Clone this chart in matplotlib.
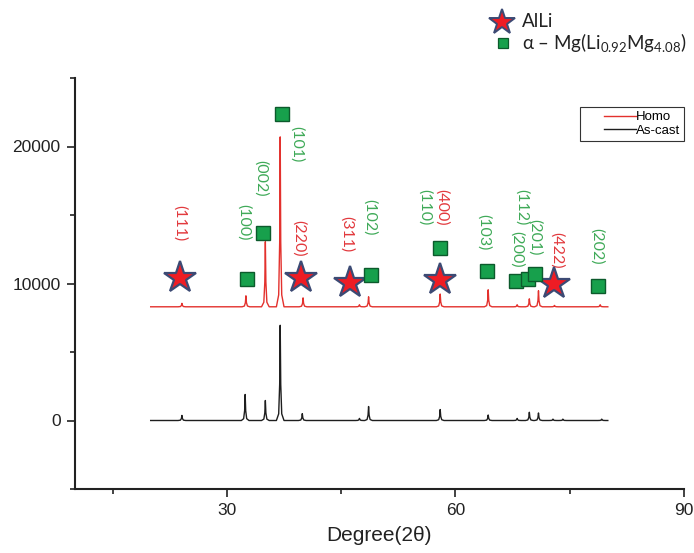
import numpy as np
import matplotlib
matplotlib.use("Agg")
import matplotlib.pyplot as plt
from matplotlib.lines import Line2D
from matplotlib.legend_handler import HandlerBase
from matplotlib.ticker import MultipleLocator

plt.rcParams['font.family'] = ['Liberation Sans', 'DejaVu Sans']
plt.rcParams['mathtext.fontset'] = 'custom'
plt.rcParams['mathtext.rm'] = 'Lato'

# ---------------- data ----------------
x_start, x_end = 20.0, 80.0
homo_baseline = 8300
homo_peak_pos = [24.1, 32.5, 35.05, 37.0, 40.0, 47.4, 48.6, 58.0, 64.3, 68.1, 69.7, 70.9, 73.0, 79.0]
homo_peak_h = [250, 800, 4750, 12400, 650, 150, 730, 930, 1240, 150, 580, 1170, 100, 150]

ascast_baseline = 0
ascast_peak_pos = [24.1, 32.4, 35.05, 37.0, 39.9, 47.4, 48.6, 58.0, 64.3, 68.1, 69.7, 70.9, 72.8, 74.1, 79.2]
ascast_peak_h = [370, 1900, 1460, 6950, 500, 150, 1020, 800, 400, 150, 600, 550, 100, 100, 100]

star_x = [23.9, 39.75, 46.2, 57.95, 72.95]
star_y = [10390, 10390, 10020, 10240, 9950]
square_x = [32.7, 34.8, 37.25, 48.9, 58.0, 64.2, 67.9, 69.5, 70.45, 78.65]
square_y = [10310, 13660, 22380, 10600, 12560, 10920, 10170, 10360, 10680, 9830]

alli_labels = ['(111)', '(220)', '(311)', '(400)', '(422)']
alli_lx = [23.8, 39.4, 45.7, 58.2, 73.3]
alli_ly = [14430, 13300, 13600, 15550, 12440]
mg_labels = ['(100)', '(002)', '(101)', '(102)', '(110)', '(103)', '(200)', '(112)', '(201)', '(202)']
mg_lx = [32.2, 34.5, 39.2, 48.7, 56.0, 63.7, 68.0, 68.7, 70.45, 78.5]
mg_ly = [14500, 17700, 20150, 14800, 15600, 13770, 12500, 15550, 13350, 12730]

x_ticks = [30, 60, 90]
y_ticks = [0, 10000, 20000]

# peak profile template (offsets in degrees, fraction of height)
shape_dx = [-0.50, -0.20, -0.07, 0.0, 0.07, 0.20, 0.50]
shape_f = [0.0, 0.07, 0.38, 1.0, 0.38, 0.07, 0.0]


def build_profile(pos, heights, base):
    xs = [x_start]
    ys = [base]
    for p, h in sorted(zip(pos, heights)):
        for dx, f in zip(shape_dx, shape_f):
            xs.append(p + dx)
            ys.append(base + f * h)
    xs.append(x_end)
    ys.append(base)
    return np.array(xs), np.array(ys)


RED = '#e3312d'
BLACK = '#1e1e1e'
STAR_FACE = '#ee1c24'
STAR_EDGE = '#3c4a74'
SQ_FACE = '#17a04c'
SQ_EDGE = '#0c5a2c'
LBL_RED = '#e2393d'
LBL_GREEN = '#3faa58'

fig = plt.figure(figsize=(6.94, 5.53), dpi=100)
ax = fig.add_axes([74.5 / 694, 64 / 553, (684 - 74.5) / 694, (489 - 78) / 553])

hx, hy = build_profile(homo_peak_pos, homo_peak_h, homo_baseline)
bx, by = build_profile(ascast_peak_pos, ascast_peak_h, ascast_baseline)
l1, = ax.plot(hx, hy, color=RED, lw=1.0, label='Homo')
l2, = ax.plot(bx, by, color=BLACK, lw=1.0, label='As-cast')

ax.plot(star_x, star_y, ls='none', marker='*', ms=24, mfc=STAR_FACE, mec=STAR_EDGE, mew=1.6, zorder=5)
ax.plot(square_x, square_y, ls='none', marker='s', ms=10, mfc=SQ_FACE, mec=SQ_EDGE, mew=1.0, zorder=5)

for t, x, y in zip(alli_labels, alli_lx, alli_ly):
    ax.text(x, y, t, rotation=270, ha='center', va='center', color=LBL_RED,
            fontsize=11.5, family=['Lato', 'DejaVu Sans'])
for t, x, y in zip(mg_labels, mg_lx, mg_ly):
    ax.text(x, y, t, rotation=270, ha='center', va='center', color=LBL_GREEN,
            fontsize=11.5, family=['Lato', 'DejaVu Sans'])

ax.set_xlim(10, 90)
ax.set_ylim(-5000, 25000)
ax.set_xticks(x_ticks)
ax.set_yticks(y_ticks)
ax.xaxis.set_minor_locator(MultipleLocator(15))
ax.yaxis.set_minor_locator(MultipleLocator(5000))
ax.tick_params(which='major', direction='out', length=6, width=1.2, labelsize=12.5, colors='#222', pad=4)
ax.tick_params(which='minor', direction='out', length=3.5, width=1.2, colors='#222')
for s in ['top', 'right']:
    ax.spines[s].set_visible(False)
for s in ['left', 'bottom']:
    ax.spines[s].set_linewidth(1.5)
    ax.spines[s].set_color('#222')
ax.set_xlabel('Degree(2θ)', fontsize=15, color='#222', labelpad=6)


class RightLine(HandlerBase):
    def create_artists(self, legend, orig_handle, xdescent, ydescent, width, height, fontsize, trans):
        y = (height - ydescent) / 2
        x0 = -xdescent + width * 0.38
        ln = Line2D([x0, -xdescent + width], [y, y], color=orig_handle.get_color(),
                    lw=orig_handle.get_linewidth(), transform=trans)
        return [ln]


leg = ax.legend(handles=[l1, l2], loc='upper right', bbox_to_anchor=(1.0, 0.929),
                borderaxespad=0, fontsize=9.5, handlelength=3.9, handletextpad=0.0,
                labelspacing=0.1, borderpad=0.3, fancybox=False, framealpha=1,
                edgecolor='#333', handler_map={Line2D: RightLine()})
leg.get_frame().set_linewidth(0.8)

# top legend for markers
fig.lines.append(Line2D([501.7 / 694], [1 - 21.7 / 553], marker='*', ms=19, mfc=STAR_FACE,
                        mec=STAR_EDGE, mew=1.4, ls='none', transform=fig.transFigure))
fig.lines.append(Line2D([503 / 694], [1 - 43 / 553], marker='s', ms=7.5, mfc=SQ_FACE,
                        mec=SQ_EDGE, mew=0.9, ls='none', transform=fig.transFigure))
fig.text(521.7 / 694, 1 - 21.7 / 553, 'AlLi', fontsize=13.5, va='center', ha='left',
         family=['Lato', 'DejaVu Sans'], color='#222')
fig.text(521.7 / 694, 1 - 43 / 553, 'α – Mg(Li$_{\\mathrm{0.92}}$Mg$_{\\mathrm{4.08}}$)', fontsize=13.5,
         va='center', ha='left', family=['Lato', 'DejaVu Sans'], color='#222')

fig.savefig('out.png', dpi=100)
